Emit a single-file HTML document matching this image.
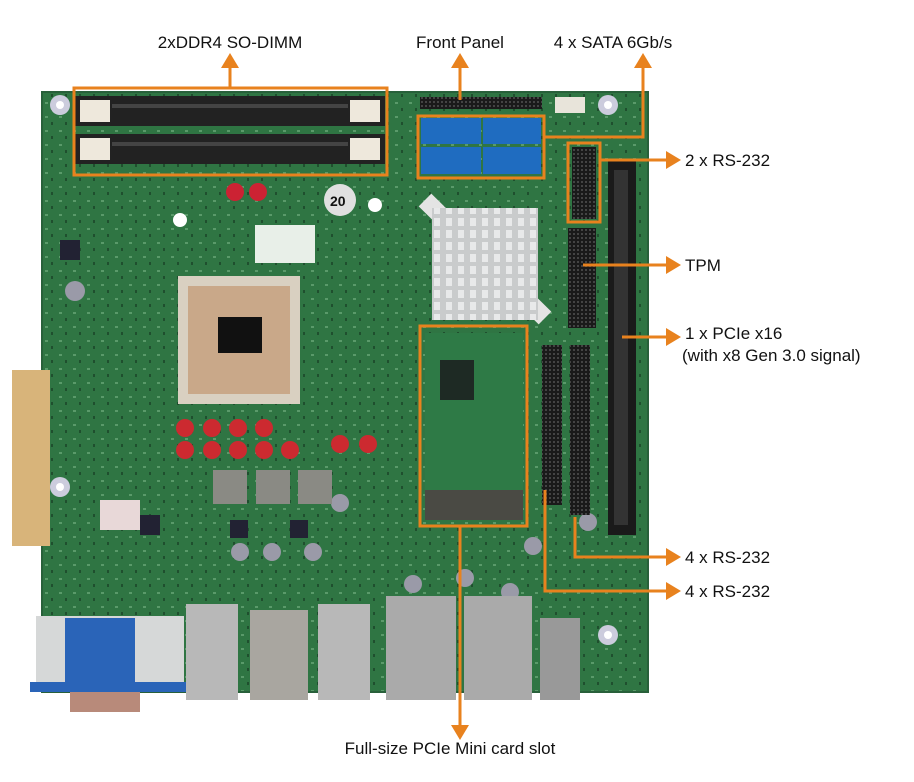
<!DOCTYPE html>
<html><head><meta charset="utf-8"><style>
body{margin:0;background:#fff;width:914px;height:782px;overflow:hidden}
svg{display:block}
text{font-family:"Liberation Sans",Arial,sans-serif;font-size:17px;fill:#111}
</style></head><body>
<svg width="914" height="782" viewBox="0 0 914 782" xmlns="http://www.w3.org/2000/svg">
<defs>
<pattern id="pins" width="4" height="4" patternUnits="userSpaceOnUse"><rect width="4" height="4" fill="#1a1a1a"/><rect x="1" y="1" width="2" height="2" fill="#444"/></pattern>
<pattern id="fins" width="12" height="12" patternUnits="userSpaceOnUse"><rect width="12" height="12" fill="#c9cbcc"/><rect x="2" y="2" width="6" height="8" fill="#e8e9ea"/></pattern>
<pattern id="pcb" width="14" height="14" patternUnits="userSpaceOnUse"><rect width="14" height="14" fill="#2f7543"/><rect x="3" y="4" width="3" height="2" fill="#5a9a6a"/><rect x="9" y="10" width="2" height="3" fill="#1f4f2e"/></pattern>
</defs>
<!-- board -->
<rect x="42" y="92" width="606" height="600" fill="url(#pcb)"/>
<rect x="42" y="92" width="606" height="600" fill="none" stroke="#28603a" stroke-width="2"/>
<!-- mounting holes -->
<circle cx="60" cy="105" r="10" fill="#ccd"/><circle cx="60" cy="105" r="4" fill="#fff"/>
<circle cx="608" cy="105" r="10" fill="#ccd"/><circle cx="608" cy="105" r="4" fill="#fff"/>
<circle cx="60" cy="487" r="10" fill="#ccd"/><circle cx="60" cy="487" r="4" fill="#fff"/>
<circle cx="608" cy="635" r="10" fill="#ccd"/><circle cx="608" cy="635" r="4" fill="#fff"/>
<circle cx="180" cy="220" r="7" fill="#fff"/><circle cx="375" cy="205" r="7" fill="#fff"/>
<circle cx="340" cy="200" r="16" fill="#e0e0e0"/><text x="330" y="206" style="font-size:14px;font-weight:bold">20</text>
<rect x="255" y="225" width="60" height="38" fill="#e8efe8"/>
<!-- DIMMs -->
<rect x="75" y="96" width="310" height="30" fill="#222"/>
<rect x="75" y="134" width="310" height="30" fill="#222"/>
<rect x="80" y="100" width="30" height="22" fill="#eee8dc"/><rect x="350" y="100" width="30" height="22" fill="#eee8dc"/>
<rect x="80" y="138" width="30" height="22" fill="#eee8dc"/><rect x="350" y="138" width="30" height="22" fill="#eee8dc"/>
<rect x="112" y="104" width="236" height="4" fill="#444"/><rect x="112" y="142" width="236" height="4" fill="#444"/>
<!-- front panel header -->
<rect x="420" y="97" width="122" height="12" fill="url(#pins)"/>
<rect x="555" y="97" width="30" height="16" fill="#e8e4da"/>
<!-- SATA -->
<rect x="421" y="118" width="60" height="26" fill="#1f6cc0"/><rect x="483" y="118" width="58" height="26" fill="#1f6cc0"/>
<rect x="421" y="147" width="60" height="27" fill="#1f6cc0"/><rect x="483" y="147" width="58" height="27" fill="#1f6cc0"/>
<!-- caps top -->
<circle cx="235" cy="192" r="9" fill="#c23"/><circle cx="258" cy="192" r="9" fill="#c23"/>
<!-- heatsink -->
<line x1="425" y1="200" x2="545" y2="318" stroke="#e4e4e4" stroke-width="18"/>
<rect x="432" y="208" width="106" height="112" fill="url(#fins)"/>
<!-- CPU -->
<rect x="178" y="276" width="122" height="128" fill="#d9d0c1"/>
<rect x="188" y="286" width="102" height="108" fill="#c9a889"/>
<rect x="218" y="317" width="44" height="36" fill="#111"/>
<!-- caps -->
<g fill="#cc2a30">
<circle cx="185" cy="428" r="9"/><circle cx="212" cy="428" r="9"/><circle cx="238" cy="428" r="9"/><circle cx="264" cy="428" r="9"/>
<circle cx="185" cy="450" r="9"/><circle cx="212" cy="450" r="9"/><circle cx="238" cy="450" r="9"/><circle cx="264" cy="450" r="9"/><circle cx="290" cy="450" r="9"/><circle cx="340" cy="444" r="9"/><circle cx="368" cy="444" r="9"/>
</g>
<g fill="#9a9aa8"><circle cx="75" cy="291" r="10"/><circle cx="340" cy="503" r="9"/><circle cx="240" cy="552" r="9"/><circle cx="272" cy="552" r="9"/><circle cx="313" cy="552" r="9"/><circle cx="465" cy="578" r="9"/><circle cx="413" cy="584" r="9"/><circle cx="510" cy="592" r="9"/><circle cx="588" cy="522" r="9"/><circle cx="533" cy="546" r="9"/></g>
<g fill="#8a8a84"><rect x="213" y="470" width="34" height="34"/><rect x="256" y="470" width="34" height="34"/><rect x="298" y="470" width="34" height="34"/></g>
<g fill="#223"><rect x="140" y="515" width="20" height="20"/><rect x="230" y="520" width="18" height="18"/><rect x="290" y="520" width="18" height="18"/><rect x="60" y="240" width="20" height="20"/></g>
<!-- ATX power -->
<rect x="12" y="370" width="38" height="176" fill="#d8b47a"/>
<rect x="100" y="500" width="40" height="30" fill="#e8d8d8"/>
<!-- mini card -->
<rect x="425" y="333" width="98" height="186" fill="#2e7a46"/>
<rect x="440" y="360" width="34" height="40" fill="#1e2a24"/>
<rect x="425" y="490" width="98" height="30" fill="#4a4a44"/>
<!-- headers right -->
<rect x="572" y="147" width="24" height="72" fill="url(#pins)"/>
<rect x="568" y="228" width="28" height="100" fill="url(#pins)"/>
<rect x="542" y="345" width="20" height="160" fill="url(#pins)"/>
<rect x="570" y="345" width="20" height="170" fill="url(#pins)"/>
<!-- PCIe x16 -->
<rect x="608" y="160" width="28" height="375" fill="#1a1a1a"/>
<rect x="614" y="170" width="14" height="355" fill="#333"/>
<!-- bottom I/O -->
<rect x="36" y="616" width="148" height="70" fill="#d6d8d8"/>
<rect x="65" y="618" width="70" height="64" fill="#2a64b8"/>
<rect x="30" y="682" width="160" height="10" fill="#2a64b8"/>
<rect x="70" y="692" width="70" height="20" fill="#b88a7a"/>
<rect x="186" y="604" width="52" height="96" fill="#b8b8b8"/>
<rect x="250" y="610" width="58" height="90" fill="#a9a6a0"/>
<rect x="318" y="604" width="52" height="96" fill="#b8b8b8"/>
<rect x="386" y="596" width="70" height="104" fill="#aaa"/>
<rect x="464" y="596" width="68" height="104" fill="#aaa"/>
<rect x="540" y="618" width="40" height="82" fill="#999"/>
<!-- orange annotations -->
<g stroke="#e8821e" stroke-width="3" fill="none">
<rect x="74" y="88" width="313" height="87"/>
<rect x="418" y="116" width="126" height="62"/>
<rect x="568" y="143" width="32" height="79"/>
<rect x="420" y="326" width="107" height="200"/>
<line x1="230" y1="88" x2="230" y2="65"/>
<line x1="460" y1="100" x2="460" y2="65"/>
<polyline points="544,137 643,137 643,65"/>
<line x1="600" y1="160" x2="668" y2="160"/>
<line x1="583" y1="265" x2="668" y2="265"/>
<line x1="622" y1="337" x2="668" y2="337"/>
<polyline points="575,517 575,557 668,557"/>
<polyline points="545,490 545,591 668,591"/>
<line x1="460" y1="526" x2="460" y2="728"/>
</g>
<g fill="#e8821e">
<polygon points="221,68 239,68 230,53"/>
<polygon points="451,68 469,68 460,53"/>
<polygon points="634,68 652,68 643,53"/>
<polygon points="666,151 666,169 681,160"/>
<polygon points="666,256 666,274 681,265"/>
<polygon points="666,328 666,346 681,337"/>
<polygon points="666,548 666,566 681,557"/>
<polygon points="666,582 666,600 681,591"/>
<polygon points="451,725 469,725 460,740"/>
</g>
<text x="230" y="48" text-anchor="middle">2xDDR4 SO-DIMM</text>
<text x="460" y="48" text-anchor="middle">Front Panel</text>
<text x="613" y="48" text-anchor="middle">4 x SATA 6Gb/s</text>
<text x="685" y="166">2 x RS-232</text>
<text x="685" y="271">TPM</text>
<text x="685" y="339">1 x PCIe x16</text>
<text x="682" y="361">(with x8 Gen 3.0 signal)</text>
<text x="685" y="563">4 x RS-232</text>
<text x="685" y="597">4 x RS-232</text>
<text x="450" y="754" text-anchor="middle">Full-size PCIe Mini card slot</text>
</svg>
</body></html>
